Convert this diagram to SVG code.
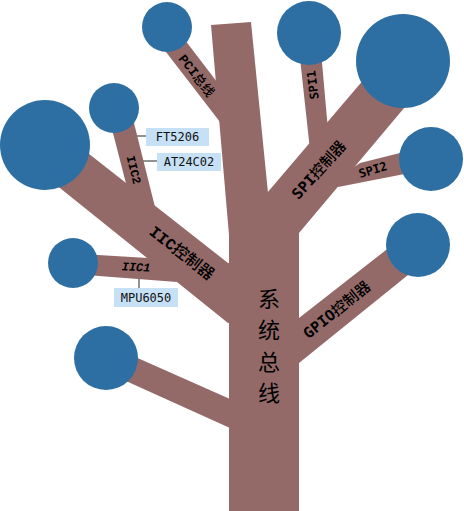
<svg xmlns="http://www.w3.org/2000/svg" width="464" height="511" viewBox="0 0 464 511">
<style>
.br{fill:#946a69}
.nd{fill:#2e6fa3}
.box{fill:#c6e0f5}
.ld{stroke:#777;stroke-width:1.6}
.t{fill:#000;text-anchor:middle;dominant-baseline:central}
.mono{font-family:"DejaVu Sans Mono","Noto Sans CJK SC",monospace;font-weight:bold}
.smono{font-family:"Liberation Mono","Noto Sans CJK SC",monospace;font-weight:bold}
.c{font-weight:500}
.bx{font-family:"DejaVu Sans Mono",monospace;font-size:12px;fill:#111;text-anchor:middle;dominant-baseline:central}
.cjk{font-family:"Noto Sans CJK SC",serif;font-size:22px;fill:#000;text-anchor:middle;dominant-baseline:central}
</style>
<rect width="464" height="511" fill="#fff"/>
<g id="connectors">
<polygon class="br" points="211,25 251,22 268,193 299,233 299,511 229,511 229,235"/>
<polygon class="br" points="175,27 222,88.5 225,128.5 149,30"/>
<polygon class="br" points="267,193 365,78 415,95 299,233 280,245"/>
<polygon class="br" points="298,40 320,40 328,130 310,150"/>
<polygon class="br" points="335,180 360,163 420,148 425,170 338,187"/>
<polygon class="br" points="290,320 299,318 386,250 420,245 408,275 299,363 290,365"/>
<polygon class="br" points="106,344 230,399 230,428 106,372"/>
<polygon class="br" points="70,139 228,263 235,263 235,323 228,323 40,172"/>
<polygon class="br" points="107,110 129.5,105 157,215 129,195"/>
<polygon class="br" points="73,253.5 148,258 165,260 177,282 73,274"/>
</g>
<g id="node-pci"><circle class="nd" cx="167" cy="27" r="25"/></g>
<g id="node-spi1"><circle class="nd" cx="309" cy="33" r="32"/></g>
<g id="node-spi"><circle class="nd" cx="403" cy="61" r="47"/></g>
<g id="node-spi2"><circle class="nd" cx="431" cy="159" r="32"/></g>
<g id="node-iic2"><circle class="nd" cx="114" cy="108" r="25"/></g>
<g id="node-iic"><circle class="nd" cx="45" cy="145" r="45"/></g>
<g id="node-iic1"><circle class="nd" cx="73" cy="263" r="25"/></g>
<g id="node-gpio"><circle class="nd" cx="418" cy="245" r="32"/></g>
<g id="node-other"><circle class="nd" cx="106" cy="358" r="32"/></g>
<g id="node-ft5206">
<line class="ld" x1="137" y1="136" x2="146" y2="136"/>
<rect class="box" x="146" y="128" width="63" height="18"/>
<text class="bx" x="177.5" y="137">FT5206</text>
</g>
<g id="node-at24c02">
<line class="ld" x1="143" y1="161" x2="157" y2="161"/>
<rect class="box" x="157" y="153" width="64" height="18"/>
<text class="bx" x="189" y="162">AT24C02</text>
</g>
<g id="node-mpu6050">
<line class="ld" x1="139" y1="277" x2="139" y2="288"/>
<rect class="box" x="114" y="288" width="64" height="19"/>
<text class="bx" x="146" y="297.5">MPU6050</text>
</g>
<g id="labels">
<text class="t smono" font-size="13" transform="translate(196,76) rotate(52)">PCI<tspan class="c">总线</tspan></text>
<text class="t mono" font-size="12" transform="translate(313,85) rotate(-97)">SPI1</text>
<text class="t mono" font-size="12" transform="translate(373,170) rotate(-17)">SPI2</text>
<text class="t mono" font-size="15" transform="translate(319,170) rotate(-48)">SPI<tspan class="c">控制器</tspan></text>
<text class="t smono" font-size="12" transform="translate(133,170) rotate(76)">IIC2</text>
<text class="t smono" font-size="16" transform="translate(181,254) rotate(38)">IIC<tspan class="c">控制器</tspan></text>
<text class="t smono" font-size="12" font-style="italic" transform="translate(136,268) rotate(3)">IIC1</text>
<text class="t mono" font-size="15" transform="translate(337,310) rotate(-39)">GPIO<tspan class="c">控制器</tspan></text>
<text class="cjk" x="269" y="297">系</text>
<text class="cjk" x="269" y="328">统</text>
<text class="cjk" x="269" y="360">总</text>
<text class="cjk" x="269" y="391">线</text>
</g>
</svg>
